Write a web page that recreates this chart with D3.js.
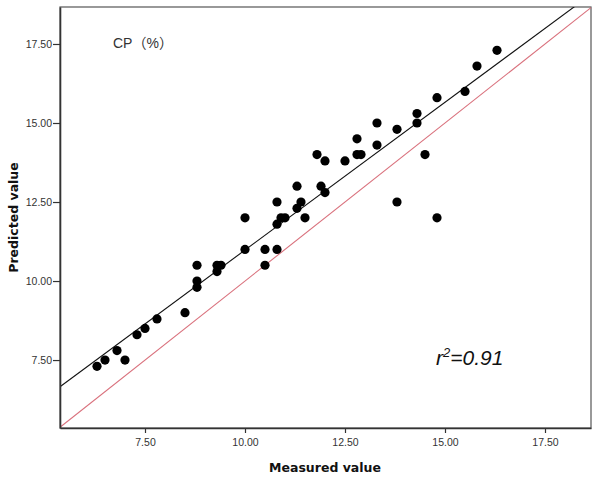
<!DOCTYPE html>
<html>
<head>
<meta charset="utf-8">
<script src="https://cdn.jsdelivr.net/npm/d3@7"></script>
<style>
  html, body { margin: 0; padding: 0; background: #fff; }
  svg { display: block; }
</style>
</head>
<body>
<svg id="chart" width="600" height="481"></svg>
<script>
// ---- data ----
const measured = [6.3, 6.5, 6.8, 7.0, 7.3, 7.5, 7.8, 8.5, 8.8, 8.8, 8.8, 9.3, 9.3, 9.4,
  10.0, 10.5, 10.5, 10.8, 10.0, 10.8, 10.8, 10.9, 11.0, 11.3, 11.3, 11.4, 11.5,
  11.9, 12.0, 11.8, 12.0, 12.5, 12.8, 12.8, 12.9, 13.3, 13.3, 13.8, 13.8,
  14.3, 14.3, 14.5, 14.8, 14.8, 15.5, 15.8, 16.3];
const predicted = [7.3, 7.5, 7.8, 7.5, 8.3, 8.5, 8.8, 9.0, 10.5, 10.0, 9.8, 10.5, 10.3, 10.5,
  11.0, 11.0, 10.5, 11.0, 12.0, 12.5, 11.8, 12.0, 12.0, 13.0, 12.3, 12.5, 12.0,
  13.0, 12.8, 14.0, 13.8, 13.8, 14.5, 14.0, 14.0, 15.0, 14.3, 14.8, 12.5,
  15.3, 15.0, 14.0, 15.8, 12.0, 16.0, 16.8, 17.3];
const tickValues = [7.5, 10, 12.5, 15, 17.5];
const xDomain = [5.375, 18.65];
const yDomain = [5.35, 18.67];
const fitIntercept = 1.63;
const fitSlope = 0.935;
const panelLabel = "CP（%）";
const xTitle = "Measured value";
const yTitle = "Predicted value";

// ---- layout ----
const svg = d3.select("#chart");
const L = 60, R = 591, T = 7, B = 428;
const x = d3.scaleLinear().domain(xDomain).range([L, R]);
const y = d3.scaleLinear().domain(yDomain).range([B, T]);

// frame
svg.append("rect")
  .attr("x", L).attr("y", T).attr("width", R - L).attr("height", B - T)
  .attr("fill", "#fff").attr("stroke", "#555").attr("stroke-width", 1.2);

svg.append("defs").append("clipPath").attr("id", "plotclip")
  .append("rect").attr("x", L).attr("y", T).attr("width", R - L).attr("height", B - T);

const plot = svg.append("g").attr("clip-path", "url(#plotclip)");

// identity line (y = x)
plot.append("line")
  .attr("x1", x(xDomain[0])).attr("y1", y(xDomain[0]))
  .attr("x2", x(xDomain[1])).attr("y2", y(xDomain[1]))
  .attr("stroke", "#d9707c").attr("stroke-width", 1.1);

// fit line
plot.append("line")
  .attr("x1", x(xDomain[0])).attr("y1", y(fitIntercept + fitSlope * xDomain[0]))
  .attr("x2", x(xDomain[1])).attr("y2", y(fitIntercept + fitSlope * xDomain[1]))
  .attr("stroke", "#111").attr("stroke-width", 1.1);

// points
plot.selectAll("circle").data(measured.map((m, i) => [m, predicted[i]]))
  .enter().append("circle")
  .attr("cx", d => x(d[0])).attr("cy", d => y(d[1]))
  .attr("r", 4.6).attr("fill", "#000");

// axes
const fmt = d3.format(".2f");
const xAxis = svg.append("g").attr("transform", `translate(0,${B})`)
  .call(d3.axisBottom(x).tickValues(tickValues).tickFormat(fmt).tickSize(5).tickSizeOuter(0));
const yAxis = svg.append("g").attr("transform", `translate(${L},0)`)
  .call(d3.axisLeft(y).tickValues(tickValues).tickFormat(fmt).tickSize(7).tickSizeOuter(0));

[xAxis, yAxis].forEach(a => {
  a.select(".domain").attr("stroke", "#333").attr("stroke-width", 1.6);
  a.selectAll(".tick line").attr("stroke", "#333").attr("stroke-width", 1.2);
  a.selectAll(".tick text").attr("fill", "#333")
    .style("font-family", "'Liberation Sans', Arial, sans-serif").style("font-size", "10.5px");
});
xAxis.selectAll(".tick text").attr("dy", "0").attr("y", 18);
yAxis.selectAll(".tick text").attr("x", -8).attr("dy", "0.36em");

// axis titles
svg.append("text")
  .attr("x", 325).attr("y", 472)
  .attr("text-anchor", "middle")
  .style("font-family", "'DejaVu Sans', Verdana, sans-serif")
  .style("font-weight", "bold").style("font-size", "12.5px").attr("fill", "#111")
  .text(xTitle);

svg.append("text")
  .attr("transform", `translate(18,${(T + B) / 2}) rotate(-90)`)
  .attr("text-anchor", "middle")
  .style("font-family", "'DejaVu Sans', Verdana, sans-serif")
  .style("font-weight", "bold").style("font-size", "12.5px").attr("fill", "#111")
  .text(yTitle);

// panel label
svg.append("text")
  .attr("x", 113).attr("y", 48)
  .style("font-family", "'Liberation Sans', 'Noto Sans CJK SC', Arial, sans-serif")
  .style("font-size", "14px").attr("fill", "#333")
  .text(panelLabel);

// r^2 annotation
const r2 = svg.append("text")
  .attr("x", 436).attr("y", 365)
  .style("font-family", "'Liberation Sans', Arial, sans-serif")
  .style("font-style", "italic").style("font-size", "21px").attr("fill", "#111");
r2.append("tspan").text("r");
r2.append("tspan").attr("dy", -8).style("font-size", "13px").text("2");
r2.append("tspan").attr("dy", 8).text("=0.91");
</script>
</body>
</html>
